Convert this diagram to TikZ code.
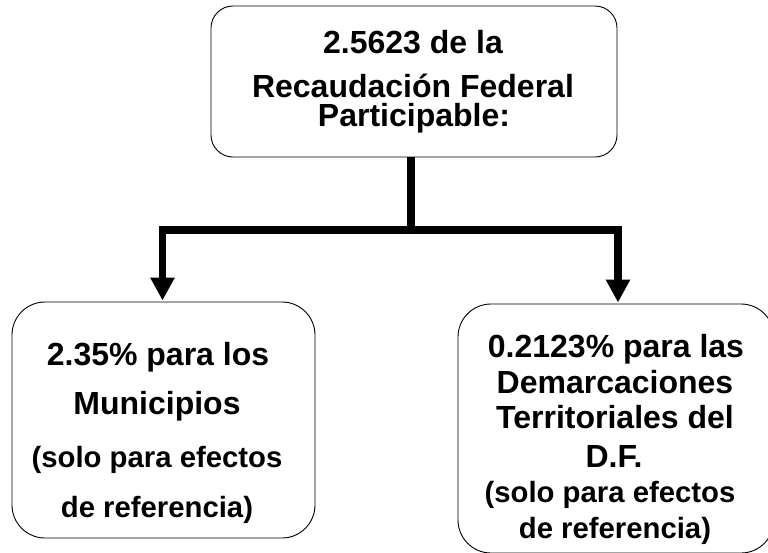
\documentclass[tikz,border=0pt]{standalone}
\usepackage{fontspec}
\setmainfont{Liberation Sans}
\usetikzlibrary{arrows.meta}
\begin{document}
\begin{tikzpicture}[x=1pt,y=-1pt,
  box/.style={draw=black, line width=0.9pt, rounded corners=#1, inner sep=0pt},
  big/.style={anchor=base, font=\fontsize{32}{36}\selectfont\bfseries, inner sep=0pt},
  small/.style={anchor=base, font=\fontsize{29.3}{33}\selectfont\bfseries, inner sep=0pt},
  conn/.style={line width=7.5pt},
  tip/.style={-{Triangle[width=23pt,length=23pt]}}]
\useasboundingbox (0,0) rectangle (768,552);
% boxes
\node[box=22pt, minimum width=406pt, minimum height=151pt] (top) at (414,81.5) {};
\node[box=33pt, minimum width=303pt, minimum height=236pt] (left) at (163.5,420) {};
\node[box=33pt, minimum width=316pt, minimum height=249pt] (right) at (616,428.5) {};
% top text
\node[big] (t1) at (413,53) {2.5623 de la};
\node[big] (t2) at (413,97) {Recaudación Federal};
\node[big] (t3) at (414,126) {Participable:};
% left text
\node[big] (l1) at (158,365) {2.35\% para los};
\node[big] (l2) at (157,414) {Municipios};
\node[small] (l3) at (157,467) {(solo para efectos};
\node[small] (l4) at (157,517) {de referencia)};
% right text
\node[big] (r1) at (616,357) {0.2123\% para las};
\node[big] (r2) at (615,393) {Demarcaciones};
\node[big] (r3) at (615,428) {Territoriales del};
\node[big] (r4) at (614,467) {D.F.};
\node[small] (r5) at (610,502) {(solo para efectos};
\node[small] (r6) at (615,538) {de referencia)};
% connectors
\coordinate (j) at (411,230);
\draw[conn] (top.south -| j) -- (j);
\draw[conn,tip] (j) -| ([xshift=-1pt,yshift=1pt]left.north);
\draw[conn,tip] (j) -| ([xshift=2pt,yshift=1pt]right.north);
\end{tikzpicture}
\end{document}
